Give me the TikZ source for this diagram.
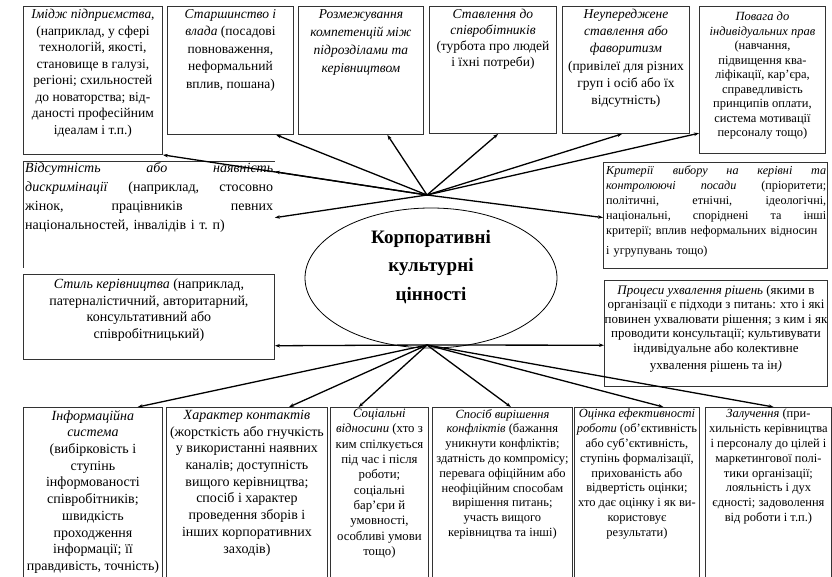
\documentclass[tikz,border=0pt]{standalone}
\usepackage{fontspec}
\setmainfont{Liberation Serif}
\usepackage{tikz}
\usetikzlibrary{positioning, arrows.meta, calc}
\usetikzlibrary{shapes.geometric}
\newcommand{\fsz}[2]{\fontsize{#1}{#2}\selectfont}

\begin{document}
\begin{tikzpicture}[x=1pt, y=-1pt,
	box/.style={draw=black!80, line width=0.9pt, inner sep=0pt, anchor=north west},
	txt/.style={align=center, inner sep=1pt, font=\fsz{13.5}{16.5}},
	link/.style={line width=1.3pt, -{Stealth[length=5pt, width=3.5pt]}},
	core/.style={ellipse, draw, line width=0.8pt, minimum width=252pt, minimum height=140pt}]
	\useasboundingbox (0,0) rectangle (832,576);
	\clip (0,0) rectangle (832,576);
	
	\node[box, minimum width=139pt, minimum height=148pt] (imidzh) at (23,6) {};
	\node[box, minimum width=126pt, minimum height=128pt] (starsh) at (167,6) {};
	\node[box, minimum width=125pt, minimum height=128pt] (rozmezh) at (298,6) {};
	\node[box, minimum width=127pt, minimum height=127pt] (stavl) at (429,6) {};
	\node[box, minimum width=127pt, minimum height=127pt] (neuper) at (562,6) {};
	\node[box, minimum width=126pt, minimum height=147pt] (povaga) at (699,6) {};
	
	\node[box, draw=none, minimum width=251pt, minimum height=106pt] (vids) at (23,161) {};
	\draw[black!80, line width=0.9pt] (vids.north east) -- (vids.north west) -- (vids.south west);
	\node[box, minimum width=251pt, minimum height=85pt] (styl) at (23,274) {};
	\node[box, minimum width=224pt, minimum height=106pt] (kryt) at (603,162) {};
	\node[box, minimum width=223pt, minimum height=106pt] (proc) at (604,280) {};
	
	\node[box, minimum width=139pt, minimum height=171pt] (inform) at (23,407) {};
	\node[box, minimum width=161pt, minimum height=171pt] (kharakt) at (166,407) {};
	\node[box, minimum width=98pt, minimum height=171pt] (sots) at (330,407) {};
	\node[box, minimum width=140pt, minimum height=171pt] (sposib) at (432,407) {};
	\node[box, minimum width=125pt, minimum height=171pt] (otsinka) at (574,407) {};
	\node[box, minimum width=126pt, minimum height=171pt] (zaluch) at (705,407) {};
	
	\node[core] (core) at (431,278) {};
	\node[txt, font=\fsz{19}{28.5}\bfseries] at ([yshift=11pt]core.center) {Корпоративні\\культурні\\цінності};
	
	\node[txt, below=2pt of imidzh.north] {\textit{Імідж підприємства},\\(наприклад, у сфері\\технологій, якості,\\становище в галузі,\\регіоні; схильностей\\до новаторства; від-\\даності професійним\\ідеалам і т.п.)};
	\node[txt, font=\fsz{13.5}{17.5}, below=2pt of starsh.north] {\textit{Старшинство і}\\\textit{влада} (посадові\\повноваження,\\неформальний\\вплив, пошана)};
	\node[txt, font=\fsz{13.5}{18}, below=2pt of rozmezh.north] {\textit{Розмежування}\\\textit{компетенцій між}\\\textit{підрозділами та}\\\textit{керівництвом}};
	\node[txt, font=\fsz{13.5}{16}, below=2pt of stavl.north] {\textit{Ставлення до}\\\textit{співробітників}\\(турбота про людей\\і їхні потреби)};
	\node[txt, font=\fsz{13.5}{17.2}, below=2pt of neuper.north] {\textit{Неупереджене}\\\textit{ставлення або}\\\textit{фаворитизм}\\(привілеї для різних\\груп і осіб або їх\\відсутність)};
	\node[txt, font=\fsz{12.5}{14.5}, below=5pt of povaga.north] {\textit{Повага до}\\\textit{індивідуальних прав}\\(навчання,\\підвищення ква-\\ліфікації, кар'єра,\\справедливість\\принципів оплати,\\система мотивації\\персоналу тощо)};
	
	\node[txt, font=\fsz{14}{19}, text width=248pt, align=left, anchor=north west] at ([xshift=1pt]vids.north west) {\textit{Відсутність}\hfill\textit{або}\hfill\textit{наявність}\\\textit{дискримінації}\hfill(наприклад,\hfill стосовно\\жінок,\hfill працівників\hfill певних\\національностей, інвалідів і т.~п)};
	\node[txt, font=\fsz{14}{16.5}, below=4pt of styl.north] {\textit{Стиль керівництва} (наприклад,\\патерналістичний, авторитарний,\\консультативний або\\співробітницький)};
	\node[txt, font=\fsz{12.2}{15}, text width=220pt, align=left, anchor=north west] at ([xshift=2pt, yshift=-3pt]kryt.north west) {\textit{Критерії}\hfill\textit{вибору}\hfill\textit{на}\hfill\textit{керівні}\hfill\textit{та}\\\textit{контролюючі}\hfill\textit{посади}\hfill(пріоритети;\\політичні,\hfill етнічні,\hfill ідеологічні,\\національні,\hfill споріднені\hfill та\hfill інші\\\mbox{критерії; вплив неформальних відносин}\\[5pt]і угрупувань тощо)};
	\node[txt, font=\fsz{13}{14.5}, below=4pt of proc.north] {\textit{Процеси ухвалення рішень} (якими в\\організації є підходи з питань: хто і які\\повинен ухвалювати рішення; з ким і як\\проводити консультації; культивувати\\індивідуальне або колективне\\[3pt]ухвалення рішень та ін\textit{)}};
	
	\node[txt, font=\fsz{14}{16.7}, below=2pt of inform.north] {\textit{Інформаційна}\\\textit{система}\\(вибірковість і\\ступінь\\інформованості\\співробітників;\\швидкість\\проходження\\інформації; її\\правдивість, точність)};
	\node[txt, font=\fsz{14}{16.7}, below=2pt of kharakt.north] {\textit{Характер контактів}\\(жорсткість або гнучкість\\у використанні наявних\\каналів; доступність\\вищого керівництва;\\спосіб і характер\\проведення зборів і\\інших корпоративних\\заходів)};
	\node[txt, font=\fsz{12.8}{15.3}, below=1pt of sots.north] {\textit{Соціальні}\\\textit{відносини} (хто з\\ким спілкується\\під час і після\\роботи;\\соціальні\\бар'єри й\\умовності,\\особливі умови\\тощо)};
	\node[txt, font=\fsz{12.5}{14.8}, below=1pt of sposib.north] {\textit{Спосіб вирішення}\\\textit{конфліктів} (бажання\\уникнути конфліктів;\\здатність до компромісу;\\перевага офіційним або\\неофіційним способам\\вирішення питань;\\участь вищого\\керівництва та інші)};
	\node[txt, font=\fsz{12.5}{14.8}, below=1pt of otsinka.north] {\textit{Оцінка ефективності}\\\textit{роботи} (об'єктивність\\або суб'єктивність,\\ступінь формалізації,\\прихованість або\\відвертість оцінки;\\хто дає оцінку і як ви-\\користовує\\результати)};
	\node[txt, font=\fsz{12.5}{14.8}, below=1pt of zaluch.north] {\textit{Залучення} (при-\\хильність керівництва\\і персоналу до цілей і\\маркетингової полі-\\тики організації;\\лояльність і дух\\єдності; задоволення\\від роботи і т.п.)};
	
	\coordinate (hubT) at (427,195);
	\coordinate (hubB) at (427,345);
	\draw[link] (hubT) -- (imidzh.south east);
	\draw[link] (hubT) -- ($(starsh.south west)!.86!(starsh.south east)$);
	\draw[link] (hubT) -- ($(rozmezh.south west)!.71!(rozmezh.south east)$);
	\draw[link] (hubT) -- ($(stavl.south west)!.54!(stavl.south east)$);
	\draw[link] (hubT) -- ($(neuper.south west)!.47!(neuper.south east)$);
	\draw[link] (hubT) -- ($(povaga.north west)!.86!(povaga.south west)$);
	\draw[link] (hubT) -- ($(vids.north east)!.1!(vids.south east)$);
	\draw[link] (hubT) -- ($(vids.north east)!.53!(vids.south east)$);
	\draw[link] (hubT) -- ($(kryt.north west)!.52!(kryt.south west)$);
	\draw[link] (hubB) -- ($(styl.north east)!.835!(styl.south east)$);
	\draw[link] (hubB) -- ($(proc.north west)!.61!(proc.south west)$);
	\draw[link] (hubB) -- ($(inform.north west)!.82!(inform.north east)$);
	\draw[link] (hubB) -- ($(kharakt.north west)!.76!(kharakt.north east)$);
	\draw[link] (hubB) -- ($(sots.north west)!.29!(sots.north east)$);
	\draw[link] (hubB) -- ($(sposib.north west)!.56!(sposib.north east)$);
	\draw[link] (hubB) -- ($(otsinka.north west)!.71!(otsinka.north east)$);
	\draw[link] (hubB) -- ($(zaluch.north west)!.54!(zaluch.north east)$);
\end{tikzpicture}
\end{document}
